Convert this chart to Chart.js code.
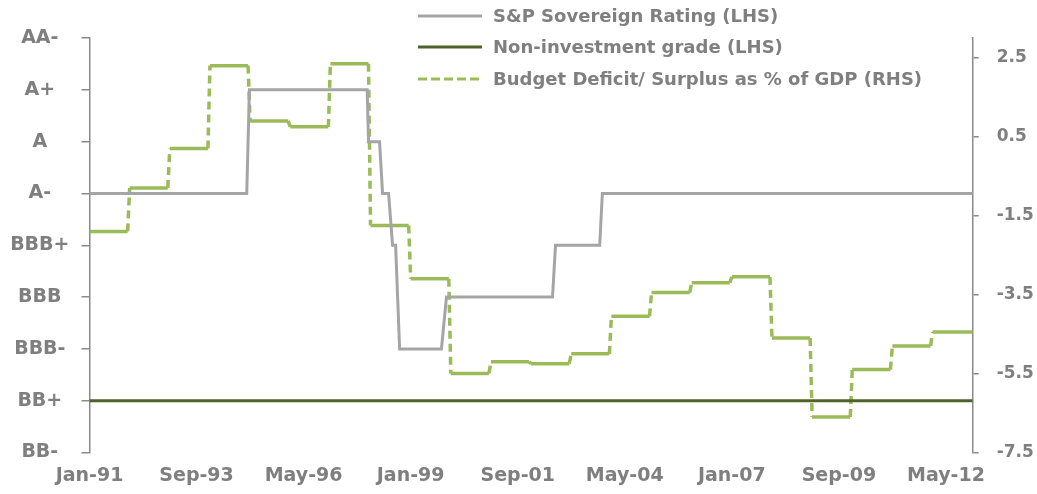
<!DOCTYPE html>
<html>
<head>
<meta charset="utf-8">
<script src="https://cdn.jsdelivr.net/npm/chart.js@4"></script>
<style>
  body { margin: 0; background: #fff; }
  #wrap { position: relative; width: 1037px; height: 494px; }
  #legend { position: absolute; left: 418px; top: 0; font: bold 18px "DejaVu Sans", sans-serif; color: #7f7f7f; }
  #legend .row { position: absolute; left: 0; height: 20px; line-height: 20px; white-space: nowrap; }
  #legend svg { position: absolute; left: 0; top: 8px; }
  #legend span { position: absolute; left: 75px; top: 0; }
</style>
</head>
<body>
<div id="wrap">
  <canvas id="chart" width="1037" height="494"></canvas>
  <div id="legend"></div>
</div>
<script>
// left axis: rating scale, bottom to top
var ratingLabels = ['BB-', 'BB+', 'BBB-', 'BBB', 'BBB+', 'A-', 'A', 'A+', 'AA-'];
// x axis: months since Jan-91
var xTickMonths = [0, 32, 64, 96, 128, 160, 192, 224, 256];
var xTickLabels = ['Jan-91', 'Sep-93', 'May-96', 'Jan-99', 'Sep-01', 'May-04', 'Jan-07', 'Sep-09', 'May-12'];
var rhsTicks = [-7.5, -5.5, -3.5, -1.5, 0.5, 2.5];

// S&P rating (index into ratingLabels) at given months
var ratingMonths = [0, 47, 47.8, 83, 83.4, 86.7, 87.6, 89.4, 90.6, 91.5, 92.7, 105.2, 106.7, 138.4, 139.3, 152.5, 153.3, 264];
var ratingValues = [5, 5, 7, 7, 6, 6, 5, 5, 4, 4, 2, 2, 3, 3, 4, 4, 5, 5];

// non-investment grade threshold (BB+)
var nonInvGrade = 1;

// budget deficit/surplus % of GDP, one value per year
var budgetYears = [1991, 1992, 1993, 1994, 1995, 1996, 1997, 1998, 1999, 2000, 2001,
                   2002, 2003, 2004, 2005, 2006, 2007, 2008, 2009, 2010, 2011, 2012];
var budgetValues = [-1.9, -0.8, 0.2, 2.3, 0.9, 0.75, 2.35, -1.75, -3.1, -5.5, -5.2,
                    -5.25, -5.0, -4.05, -3.45, -3.2, -3.05, -4.6, -6.6, -5.4, -4.8, -4.45];
var lastMonth = 264;

var ratingPoints = [];
for (var i = 0; i < ratingMonths.length; i++) {
    ratingPoints.push({x: ratingMonths[i], y: ratingValues[i]});
}

// flat parts of each year (solid) and the jumps between years (dashed)
var budgetFlat = [];
var budgetJumps = [];
for (var j = 0; j < budgetYears.length; j++) {
    var start = (budgetYears[j] - 1991) * 12;
    var end = j < budgetYears.length - 1 ? start + 11.4 : lastMonth;
    budgetFlat.push({x: start, y: budgetValues[j]});
    budgetFlat.push({x: end, y: budgetValues[j]});
    budgetFlat.push({x: end + 0.1, y: null});
    if (j < budgetYears.length - 1) {
        budgetJumps.push({x: end, y: budgetValues[j]});
        budgetJumps.push({x: start + 12, y: budgetValues[j + 1]});
        budgetJumps.push({x: start + 12.1, y: null});
    }
}

var grey = '#7f7f7f';
var axisGrey = '#8a8a8a';
var colors = {rating: '#a5a5a5', nonInv: '#4f6228', budget: '#9bbb59'};

Chart.defaults.font.family = '"DejaVu Sans", sans-serif';
Chart.defaults.font.weight = 'bold';
Chart.defaults.color = grey;

var ctx = document.getElementById('chart');
var chart = new Chart(ctx, {
    type: 'line',
    data: {
        datasets: [
            {
                label: 'S&P Sovereign Rating (LHS)',
                data: ratingPoints,
                yAxisID: 'y',
                borderColor: colors.rating,
                borderWidth: 3,
                pointRadius: 0,
                order: 2
            },
            {
                label: 'Non-investment grade (LHS)',
                data: [{x: 0, y: nonInvGrade}, {x: lastMonth, y: nonInvGrade}],
                yAxisID: 'y',
                borderColor: colors.nonInv,
                borderWidth: 3,
                pointRadius: 0,
                order: 1
            },
            {
                label: 'Budget Deficit/ Surplus as % of GDP (RHS)',
                data: budgetFlat,
                yAxisID: 'y1',
                borderColor: colors.budget,
                borderWidth: 3.5,
                pointRadius: 0,
                spanGaps: false,
                order: 3
            },
            {
                label: 'budget jumps',
                data: budgetJumps,
                yAxisID: 'y1',
                borderColor: colors.budget,
                borderWidth: 3.5,
                borderDash: [8, 5],
                pointRadius: 0,
                spanGaps: false,
                order: 3
            }
        ]
    },
    options: {
        responsive: false,
        animation: false,
        devicePixelRatio: 1,
        layout: {padding: {top: 38, left: 0, right: 0, bottom: 0}},
        plugins: {legend: {display: false}, tooltip: {enabled: false}},
        elements: {line: {tension: 0}},
        scales: {
            x: {
                type: 'linear',
                min: 0,
                max: lastMonth,
                grid: {display: false},
                border: {display: false},
                afterBuildTicks: function(scale) {
                    scale.ticks = xTickMonths.map(function(v) { return {value: v}; });
                },
                afterFit: function(scale) { scale.height = 41.5; },
                ticks: {
                    autoSkip: false,
                    maxRotation: 0,
                    padding: 4,
                    font: {size: 19},
                    callback: function(value) {
                        var k = xTickMonths.indexOf(value);
                        return k >= 0 ? xTickLabels[k] : '';
                    }
                }
            },
            y: {
                position: 'left',
                min: 0,
                max: ratingLabels.length - 1,
                border: {display: true, color: axisGrey, width: 1.5},
                grid: {drawOnChartArea: false, drawTicks: true, tickLength: 8, color: axisGrey, lineWidth: 1.5},
                afterFit: function(scale) { scale.width = 89.5; },
                ticks: {
                    stepSize: 1,
                    padding: 12,
                    crossAlign: 'center',
                    font: {size: 19},
                    callback: function(value) { return ratingLabels[value]; }
                }
            },
            y1: {
                position: 'right',
                min: -7.5,
                max: 3.0,
                border: {display: true, color: axisGrey, width: 1.5},
                grid: {drawOnChartArea: false, drawTicks: true, tickLength: 6, color: axisGrey, lineWidth: 1.5},
                afterBuildTicks: function(scale) {
                    scale.ticks = rhsTicks.map(function(v) { return {value: v}; });
                },
                afterFit: function(scale) { scale.width = 64.3; },
                ticks: {
                    padding: 18,
                    font: {size: 17},
                    callback: function(value) { return value.toFixed(1); }
                }
            }
        }
    }
});

// legend drawn as html, stacked top right
var legendRows = [
    {text: chart.data.datasets[0].label, color: colors.rating, dash: '', top: 6},
    {text: chart.data.datasets[1].label, color: colors.nonInv, dash: '', top: 37},
    {text: chart.data.datasets[2].label, color: colors.budget, dash: '9 4', top: 69}
];
var legend = document.getElementById('legend');
legendRows.forEach(function(r) {
    var row = document.createElement('div');
    row.className = 'row';
    row.style.top = r.top + 'px';
    row.innerHTML = '<svg width="64" height="4"><line x1="0" y1="2" x2="64" y2="2" stroke="' + r.color +
        '" stroke-width="3"' + (r.dash ? ' stroke-dasharray="' + r.dash + '"' : '') + '/></svg>' +
        '<span>' + r.text.replace('&', '&amp;') + '</span>';
    legend.appendChild(row);
});
</script>
</body>
</html>
